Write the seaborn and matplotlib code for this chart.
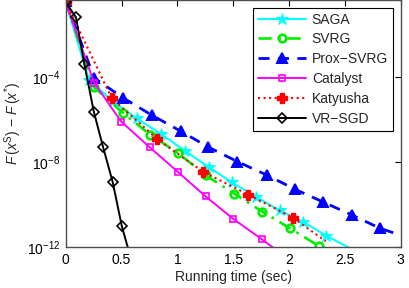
import matplotlib
matplotlib.use('Agg')
import matplotlib.pyplot as plt
import matplotlib.ticker as mticker
import seaborn as sns
import numpy as np

# running time (sec) and log10 of F(x^s) - F(x^*)
saga_t = [0, 0.209, 0.424, 0.636, 0.854, 1.065, 1.280, 1.490, 1.705, 1.916, 2.129, 2.333, 2.532]
saga_v = [-0.5, -4.15, -5.16, -5.95, -6.69, -7.46, -8.23, -8.96, -9.63, -10.27, -10.81, -11.45, -12.0]

svrg_t = [0, 0.256, 0.509, 0.755, 1.009, 1.257, 1.511, 1.763, 2.010, 2.265, 2.29]
svrg_v = [-0.5, -4.50, -5.68, -6.71, -7.59, -8.63, -9.49, -10.33, -11.11, -11.93, -12.0]

prox_t = [0, 0.256, 0.511, 0.771, 1.029, 1.278, 1.538, 1.801, 2.055, 2.308, 2.563, 2.816, 3.0]
prox_v = [-0.45, -4.06, -4.98, -5.80, -6.55, -7.30, -7.98, -8.61, -9.28, -9.88, -10.48, -11.11, -11.43]

cat_t = [0, 0.254, 0.497, 0.753, 1.009, 1.253, 1.502, 1.756, 1.855]
cat_v = [-0.5, -4.27, -6.10, -7.31, -8.48, -9.61, -10.67, -11.62, -12.0]

kat_t = [0, 0.412, 0.818, 1.228, 1.636, 2.039, 2.33]
kat_v = [-0.48, -5.01, -6.91, -8.45, -9.53, -10.62, -11.72]

vr_t = [0, 0.092, 0.167, 0.252, 0.334, 0.421, 0.502, 0.556, 0.58]
vr_v = [-0.5, -1.21, -3.40, -5.64, -7.28, -8.94, -10.99, -12.0, -12.6]

labels = ['SAGA', 'SVRG', 'Prox\u2212SVRG', 'Catalyst', 'Katyusha', 'VR\u2212SGD']

sns.set_style('white')
plt.rcParams['font.family'] = ['Liberation Sans', 'DejaVu Sans']
plt.rcParams['mathtext.fontset'] = 'custom'
plt.rcParams['mathtext.rm'] = 'Liberation Sans'
plt.rcParams['mathtext.it'] = 'Liberation Sans:italic'
plt.rcParams['mathtext.sf'] = 'Liberation Sans'

fig = plt.figure(figsize=(4.09, 2.88), dpi=100)
ax = fig.add_axes([0.1606, 0.1413, 0.8188, 0.8587])


def draw(t, v, label, color, ls, marker, ms, lw, face, mew, mevery=None):
    y = 10 ** np.array(v)
    sns.lineplot(x=t, y=y, ax=ax, sort=False, label=label, color=color,
                 linestyle=ls, linewidth=lw, marker=marker, markersize=ms,
                 markerfacecolor=face, markeredgecolor=color,
                 markeredgewidth=mew, markevery=mevery, clip_on=True)


draw(saga_t, saga_v, labels[0], 'cyan', '-', '*', 9, 1.5, 'cyan', 0.8,
     list(range(len(saga_t) - 1)))
draw(svrg_t, svrg_v, labels[1], '#00ee00', (0, (5, 2.5, 1, 2.5)), 'o', 5.5, 1.9, 'none', 1.9,
     list(range(len(svrg_t) - 1)))
draw(prox_t, prox_v, labels[2], 'blue', (0, (4, 3)), '^', 6.5, 2.0, 'blue', 1.4,
     list(range(len(prox_t) - 1)))
draw(cat_t, cat_v, labels[3], 'magenta', '-', 's', 5, 1.4, 'none', 1.2,
     list(range(len(cat_t) - 1)))
draw(kat_t, kat_v, labels[4], 'red', ':', 'P', 6.5, 1.5, 'red', 1.0,
     list(range(len(kat_t) - 1)))
draw(vr_t, vr_v, labels[5], 'black', '-', 'D', 5, 1.4, 'none', 1.2,
     list(range(len(vr_t) - 2)))

ax.set_yscale('log')
ax.set_xlim(0, 3)
ax.set_ylim(1e-12, 10 ** -0.4)
ax.yaxis.set_major_locator(mticker.FixedLocator([1e-12, 1e-8, 1e-4]))
ax.yaxis.set_minor_locator(mticker.NullLocator())
ax.set_xticks([0, 0.5, 1, 1.5, 2, 2.5, 3])
ax.set_xticklabels(['0', '0.5', '1', '1.5', '2', '2.5', '3'])
ax.tick_params(direction='in', top=True, right=True, length=4, width=0.8,
               labelsize=10, colors='black', pad=4)
for s in ax.spines.values():
    s.set_color('0.3')
    s.set_linewidth(1.0)

ax.set_xlabel('Running time (sec)', fontsize=10, labelpad=2)
ax.set_ylabel(r'$F\,(x^{\mathrm{S}})\,-\,F\,(x^{*})$', fontsize=10, labelpad=2)

leg = ax.legend(loc='upper right', fontsize=10, handlelength=3.4,
                handletextpad=0.45, labelspacing=0.42, borderpad=0.35,
                borderaxespad=0.55, fancybox=False, framealpha=1)
leg.get_frame().set_edgecolor('black')
leg.get_frame().set_linewidth(0.8)

fig.savefig('out.png', dpi=100)
